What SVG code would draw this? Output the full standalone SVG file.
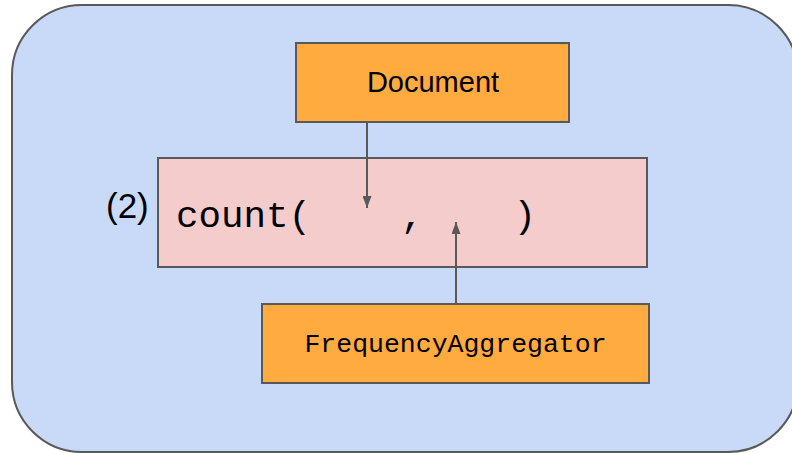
<svg xmlns="http://www.w3.org/2000/svg" width="792" height="453" viewBox="0 0 792 453">
  <defs>
    <style>
      .frame { fill: #c9daf8; stroke: #595959; stroke-width: 2; }
      .box { stroke: #595959; stroke-width: 2; }
      .orange { fill: #ffab40; }
      .pink { fill: #f4cccc; }
      .sans { font-family: "Liberation Sans", Arial, sans-serif; fill: #000; }
      .mono { font-family: "Liberation Mono", "Courier New", monospace; fill: #000; }
      .edge { stroke: #595959; stroke-width: 2; fill: none; }
    </style>
    <marker id="arrow" viewBox="0 0 12 9" refX="12" refY="4.5" markerUnits="userSpaceOnUse" markerWidth="12" markerHeight="9" orient="auto">
      <path d="M0,0 L12,4.5 L0,9 Z" fill="#595959"/>
    </marker>
  </defs>

  <!-- background panel -->
  <rect class="frame" x="12" y="5" width="786" height="447" rx="70" ry="70"/>

  <g id="document">
    <rect class="box orange" x="296" y="43" width="273" height="79"/>
    <text class="sans" x="433" y="92" font-size="29" text-anchor="middle">Document</text>
  </g>

  <g id="count-call">
    <rect class="box pink" x="158" y="158" width="489" height="109"/>
    <text class="mono" x="176" y="227" font-size="37.5" xml:space="preserve">count(    ,    )</text>
  </g>

  <g id="step-label">
    <text class="sans" x="106" y="218" font-size="35">(2)</text>
  </g>

  <g id="frequency-aggregator">
    <rect class="box orange" x="262" y="304" width="387" height="79"/>
    <text class="mono" x="455.5" y="352" font-size="26.5" text-anchor="middle">FrequencyAggregator</text>
  </g>

  <g id="connectors">
    <line class="edge" x1="367" y1="122" x2="367" y2="208" marker-end="url(#arrow)"/>
    <line class="edge" x1="456" y1="304" x2="456" y2="222" marker-end="url(#arrow)"/>
  </g>
</svg>
